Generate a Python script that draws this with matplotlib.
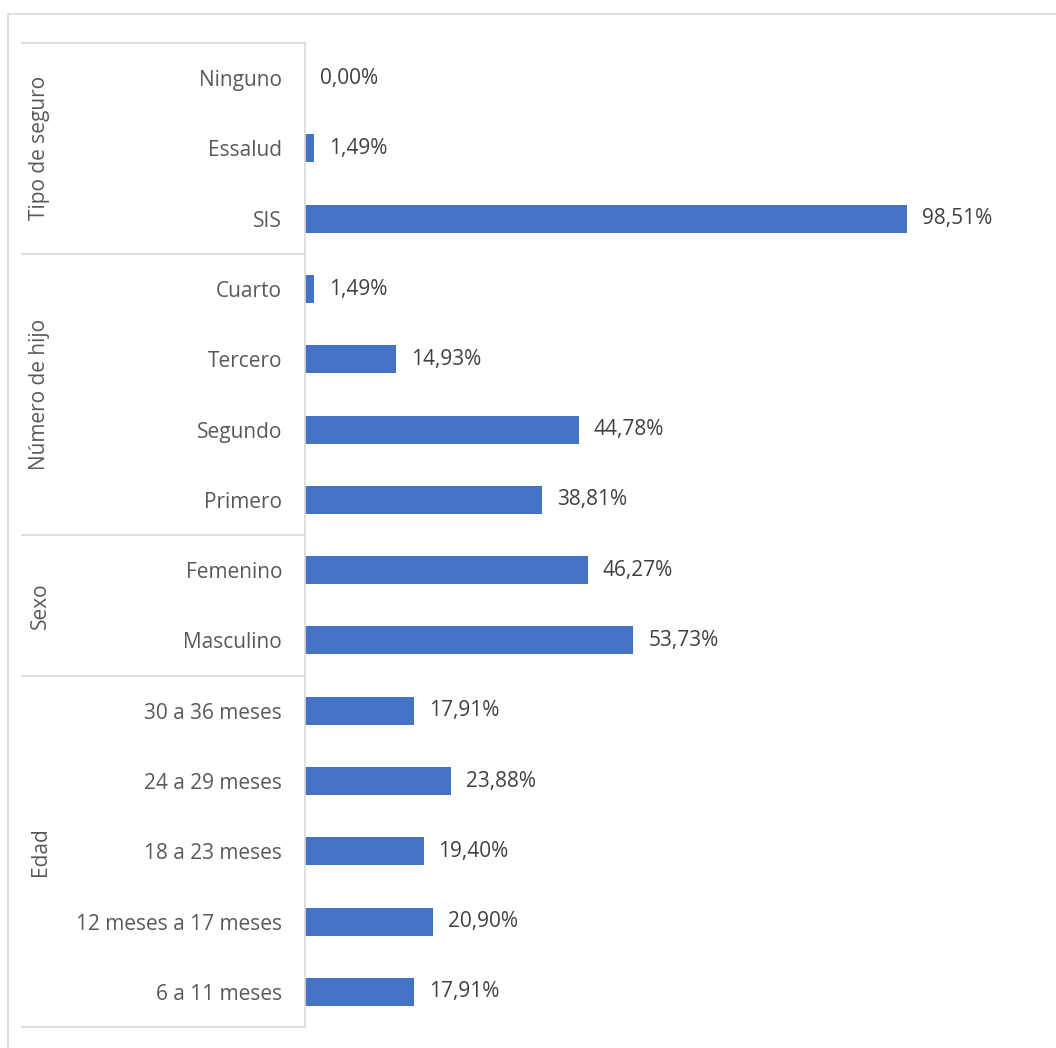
import matplotlib
matplotlib.use("Agg")
import matplotlib.pyplot as plt
from matplotlib.patches import Rectangle

# rows top to bottom
categories = ["Ninguno", "Essalud", "SIS",
              "Cuarto", "Tercero", "Segundo", "Primero",
              "Femenino", "Masculino",
              "30 a 36 meses", "24 a 29 meses", "18 a 23 meses",
              "12 meses a 17 meses", "6 a 11 meses"]
values = [0.00, 1.49, 98.51,
          1.49, 14.93, 44.78, 38.81,
          46.27, 53.73,
          17.91, 23.88, 19.40, 20.90, 17.91]
groups = ["Tipo de seguro", "Número de hijo", "Sexo", "Edad"]
group_sizes = [3, 4, 2, 5]

BAR = "#4472C4"
TXT = "#595959"
VAL = "#404040"
LINE = "#D9D9D9"
FS = 15
plt.rcParams["font.family"] = ["Open Sans", "DejaVu Sans"]

W, H = 1056, 1048
fig = plt.figure(figsize=(W / 100, H / 100), dpi=100)
ax_left, ax_top, ax_bottom = 305, 43, 1027
xmax = 120
ax_right = ax_left + 602 / 98.51 * xmax
ax = fig.add_axes([ax_left / W, 1 - ax_bottom / H,
                   (ax_right - ax_left) / W, (ax_bottom - ax_top) / H])

n = len(categories)
y = list(range(n))
ax.barh(y, values, height=0.4, color=BAR)
ax.set_ylim(n - 0.5, -0.5)
ax.set_xlim(0, xmax)

for yi, v in zip(y, values):
    ax.annotate(f"{v:.2f}%".replace(".", ","), (v, yi), xytext=(15, 0),
                textcoords="offset pixels", va="center", ha="left",
                fontsize=FS, color=VAL)

ax.set_yticks(y)
ax.set_yticklabels(categories, fontsize=FS, color=TXT)
ax.tick_params(axis="y", length=0, pad=16.5)
ax.set_xticks([])
for s in ["top", "right", "bottom"]:
    ax.spines[s].set_visible(False)
ax.spines["left"].set_color(LINE)
ax.spines["left"].set_linewidth(1.2)

# group separators and labels
sep_x0 = (22 - ax_left) / (ax_right - ax_left)
trans = ax.get_yaxis_transform()
start = -0.5
ax.plot([sep_x0, 0], [start, start], transform=trans, color=LINE, lw=1.2, clip_on=False)
for g, size in zip(groups, group_sizes):
    end = start + size
    ax.plot([sep_x0, 0], [end, end], transform=trans, color=LINE, lw=1.2, clip_on=False)
    ax.text((40 - ax_left) / (ax_right - ax_left), (start + end) / 2, g,
            transform=trans, rotation=90, ha="center", va="center",
            fontsize=FS, color=TXT)
    start = end

# outer chart border (extends past the figure on right and bottom)
fig.patches.append(Rectangle((8 / W, -0.1), 1.2, 1 - 14 / H + 0.1,
                             transform=fig.transFigure, fill=False,
                             edgecolor=LINE, lw=1.2))

fig.savefig("out.png", dpi=100)
